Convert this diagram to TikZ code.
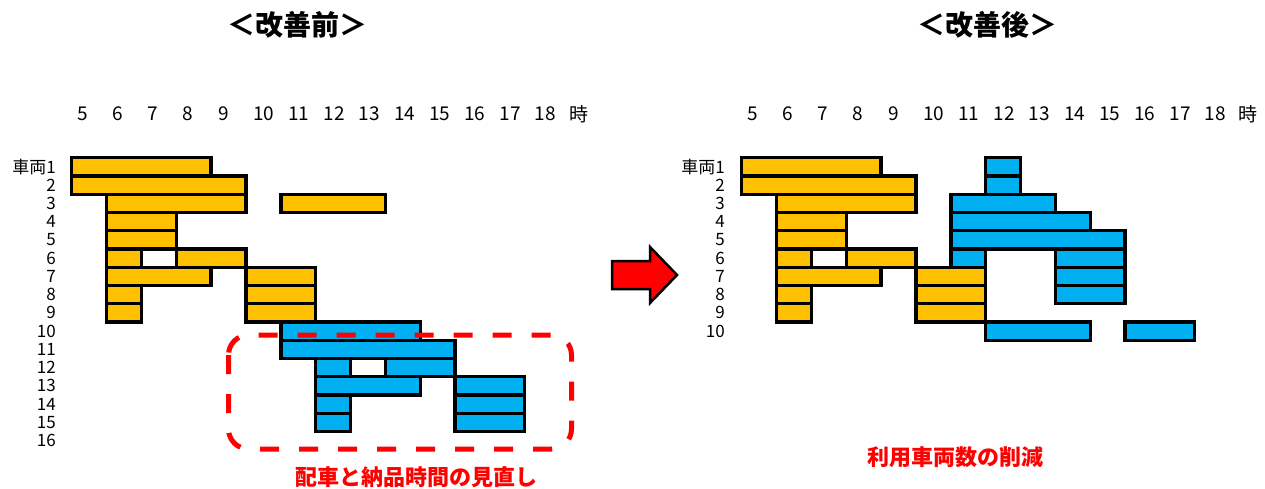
\documentclass[tikz,border=0pt]{standalone}
\usepackage{fontspec}
\setmainfont{Noto Sans CJK JP}
\definecolor{barorange}{HTML}{FFC000}
\definecolor{barblue}{HTML}{00B0F0}
\newcommand\gbar[5]{%
  \filldraw[barline, fill=#5] ({#1+71.7+34.85*(#3-5)},{157.7+18.25*(#2-1)}) rectangle ({#1+71.7+34.85*(#4-5)},{157.7+18.25*#2});}
\begin{document}
\begin{tikzpicture}[x=1pt,y=-1pt,
  barline/.style={draw=black, line width=3.4pt},
  hourlbl/.style={anchor=west, inner sep=0pt, font=\fontsize{19}{19}\selectfont},
  rowlbl/.style={anchor=east, inner sep=0pt, font=\fontsize{17}{17}\selectfont},
  titlelbl/.style={inner sep=0pt, font=\fontsize{28}{28}\selectfont\bfseries},
  notelbl/.style={inner sep=0pt, text=red, font=\fontsize{22}{22}\selectfont\bfseries}]
\useasboundingbox (0,0) rectangle (1265,488);

% titles
\node[titlelbl] (t1) at (297,25) {＜改善前＞};
\node[titlelbl] (t2) at (987,25) {＜改善後＞};

% hour labels
\foreach \h [count=\i from 0] in {5,...,18} {
  \node[hourlbl] (hl\h) at ({77+35.2*\i},114) {\h};
  \node[hourlbl] (hr\h) at ({747+35.2*\i},114) {\h};
}
\node[hourlbl] (hlj) at (569,114) {時};
\node[hourlbl] (hrj) at (1238,114) {時};

% row labels
\node[rowlbl] (rl1) at (56,{157.7+18.25*0.5}) {車両1};
\foreach \r in {2,...,16} \node[rowlbl] (rl\r) at (56,{157.7+18.25*(\r-0.5)}) {\r};
\node[rowlbl] (rr1) at (725,{157.7+18.25*0.5}) {車両1};
\foreach \r in {2,...,10} \node[rowlbl] (rr\r) at (725,{157.7+18.25*(\r-0.5)}) {\r};

% left chart
\foreach \r/\a/\b in {1/5/9,2/5/10,3/6/10,3/11/14,4/6/8,5/6/8,6/6/7,6/8/10,7/6/9,7/10/12,8/6/7,8/10/12,9/6/7,9/10/12}
  \gbar{0}{\r}{\a}{\b}{barorange};
\foreach \r/\a/\b in {10/11/15,11/11/16,12/12/13,12/14/16,13/12/15,13/16/18,14/12/13,14/16/18,15/12/13,15/16/18}
  \gbar{0}{\r}{\a}{\b}{barblue};

% right chart
\foreach \r/\a/\b in {1/5/9,2/5/10,3/6/10,4/6/8,5/6/8,6/6/7,6/8/10,7/6/9,7/10/12,8/6/7,8/10/12,9/6/7,9/10/12}
  \gbar{670}{\r}{\a}{\b}{barorange};
\foreach \r/\a/\b in {1/12/13,2/12/13,3/11/14,4/11/15,5/11/16,6/11/12,6/14/16,7/14/16,8/14/16,10/12/15,10/16/18}
  \gbar{670}{\r}{\a}{\b}{barblue};

% dashed frame
\draw[red, line width=5pt, dash pattern=on 19pt off 20pt, rounded corners=20pt] (228.5,335) rectangle (571.5,449);

% arrow
\filldraw[fill=red, draw=black, line width=2.5pt, line join=miter]
  (612,261) -- (650,261) -- (650,247) -- (677,275) -- (650,303) -- (650,289) -- (612,289) -- cycle;

% notes
\node[notelbl] (n1) at (416,477) {配車と納品時間の見直し};
\node[notelbl] (n2) at (955,457.5) {利用車両数の削減};
\end{tikzpicture}
\end{document}
